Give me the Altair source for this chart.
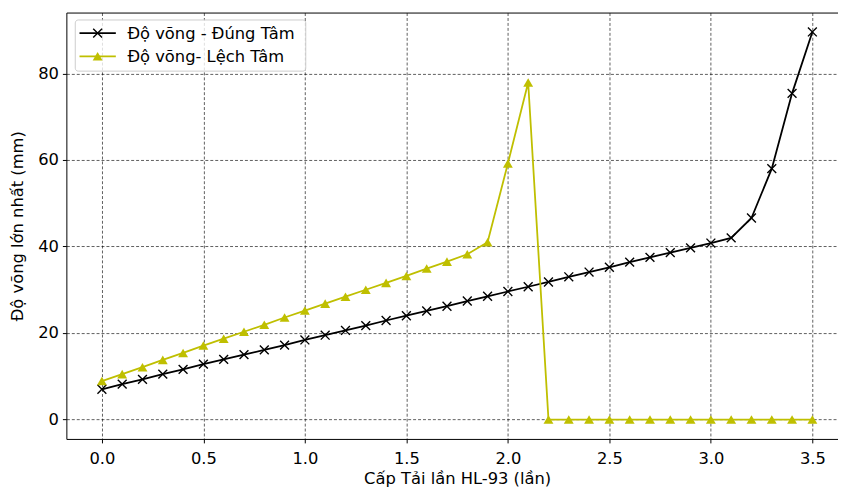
import altair as alt
import pandas as pd

load_levels = [0.0, 0.1, 0.2, 0.3, 0.4, 0.5, 0.6, 0.7, 0.8, 0.9,
               1.0, 1.1, 1.2, 1.3, 1.4, 1.5, 1.6, 1.7, 1.8, 1.9,
               2.0, 2.1, 2.2, 2.3, 2.4, 2.5, 2.6, 2.7, 2.8, 2.9,
               3.0, 3.1, 3.2, 3.3, 3.4, 3.5]

centric = [7.0, 8.2, 9.3, 10.5, 11.6, 12.8, 13.9, 15.0, 16.1, 17.2,
           18.4, 19.5, 20.6, 21.7, 22.9, 24.0, 25.1, 26.2, 27.4, 28.5,
           29.6, 30.7, 31.8, 33.0, 34.1, 35.2, 36.4, 37.5, 38.6, 39.7,
           40.8, 42.0, 46.6, 58.0, 75.4, 89.6]

eccentric = [8.9, 10.5, 12.1, 13.8, 15.4, 17.1, 18.7, 20.3, 21.9, 23.6,
             25.2, 26.8, 28.4, 30.0, 31.6, 33.2, 34.9, 36.5, 38.2, 41.0,
             59.2, 77.9, 0.0, 0.0, 0.0, 0.0, 0.0, 0.0, 0.0, 0.0,
             0.0, 0.0, 0.0, 0.0, 0.0, 0.0]

series_names = ["Độ võng - Đúng Tâm", "Độ võng- Lệch Tâm"]
series_colors = ["#000000", "#bfbf00"]

x_ticks = [0.0, 0.5, 1.0, 1.5, 2.0, 2.5, 3.0, 3.5]
y_ticks = [0, 20, 40, 60, 80]

rows = []
for x, v in zip(load_levels, centric):
    rows.append({"x": x, "y": v, "s": series_names[0]})
for x, v in zip(load_levels, eccentric):
    rows.append({"x": x, "y": v, "s": series_names[1]})
df = pd.DataFrame(rows)

FONT = "DejaVu Sans"
FS = 16.5
X_PATH = "M-1,-1L1,1M-1,1L1,-1"
YELLOW = series_colors[1]

x_scale = alt.Scale(domain=[-0.175, 3.675], nice=False, zero=False)
y_scale = alt.Scale(domain=[-4.48, 94.08], nice=False, zero=False)

xs = alt.X("x:Q", scale=x_scale,
           axis=alt.Axis(values=x_ticks, format=".1f", title="Cấp Tải lần HL-93 (lần)",
                         labelPadding=8, titlePadding=4))
ys = alt.Y("y:Q", scale=y_scale,
           axis=alt.Axis(values=y_ticks, format="d", title="Độ võng lớn nhất (mm)",
                         labelPadding=4, titlePadding=12))

lines = alt.Chart(df).mark_line(strokeWidth=1.8).encode(
    x=xs, y=ys,
    color=alt.Color("s:N", scale=alt.Scale(domain=series_names, range=series_colors), legend=None),
    order="x:Q")

x_noax = alt.X("x:Q", scale=x_scale, axis=None)

pts_c = alt.Chart(df).transform_filter(alt.datum.s == series_names[0]).mark_point(
    shape=X_PATH, filled=False, size=80, strokeWidth=1.4, color="#000000", opacity=1
).encode(x=x_noax, y="y:Q")

pts_e = alt.Chart(df).transform_filter(alt.datum.s == series_names[1]).mark_point(
    shape="triangle-up", filled=True, size=100, color=YELLOW, opacity=1
).encode(x=x_noax, y="y:Q")

# top spine as a label-less top axis
top_spine = alt.Chart(df).mark_point(opacity=0).encode(
    x=alt.X("x:Q", scale=x_scale,
            axis=alt.Axis(orient="top", labels=False, ticks=False, grid=False,
                          title=None, domain=True, domainColor="#000000", domainWidth=1)),
    y="y:Q")

# ---- legend (drawn as decoration inside the plot, top-left) ----
leg_df = pd.DataFrame({"name": series_names, "color": series_colors})
leg_one = leg_df.iloc[:1]
leg_rows_y = [20.8, 44.2]

frame = alt.Chart(leg_one).mark_rect(
    cornerRadius=3, fill="#ffffff", fillOpacity=0.8, stroke="#cccccc", strokeWidth=1
).encode(x=alt.value(9), x2=alt.value(242), y=alt.value(7.5), y2=alt.value(59.2))

legend_layers = [frame]
for i, (nm, col) in enumerate(zip(series_names, series_colors)):
    row_df = leg_df.iloc[i:i + 1]
    yy = leg_rows_y[i]
    legend_layers.append(
        alt.Chart(row_df).mark_rule(strokeWidth=1.8, color=col).encode(
            x=alt.value(13.3), x2=alt.value(50), y=alt.value(yy)))
    if i == 0:
        legend_layers.append(
            alt.Chart(row_df).mark_point(shape=X_PATH, filled=False, size=80,
                                         strokeWidth=1.4, color=col, opacity=1).encode(
                x=alt.value(31.6), y=alt.value(yy)))
    else:
        legend_layers.append(
            alt.Chart(row_df).mark_point(shape="triangle-up", filled=True, size=100,
                                         color=col, opacity=1).encode(
                x=alt.value(31.6), y=alt.value(yy)))
    legend_layers.append(
        alt.Chart(row_df).mark_text(align="left", baseline="middle", font=FONT,
                                    fontSize=FS, color="#000000").encode(
            x=alt.value(61.7), y=alt.value(yy + 0.5), text="name:N"))

chart = alt.layer(lines, pts_c, pts_e, top_spine, *legend_layers).resolve_axis(
    x="independent"
).properties(
    width=790, height=431,
    padding={"left": 2, "top": 2, "right": -10, "bottom": 0},
).configure_view(
    strokeWidth=0
).configure_axis(
    labelFont=FONT, titleFont=FONT, labelFontSize=FS, titleFontSize=FS,
    labelColor="#000000", titleColor="#000000", titleFontWeight="normal",
    domainColor="#000000", domainWidth=1, tickColor="#000000", tickSize=4,
    tickWidth=1,
    grid=True, gridColor="#000000", gridDash=[3, 2], gridWidth=0.7, gridOpacity=0.9,
)

chart.save("out.html", embed_options={"renderer": "svg", "actions": False})
